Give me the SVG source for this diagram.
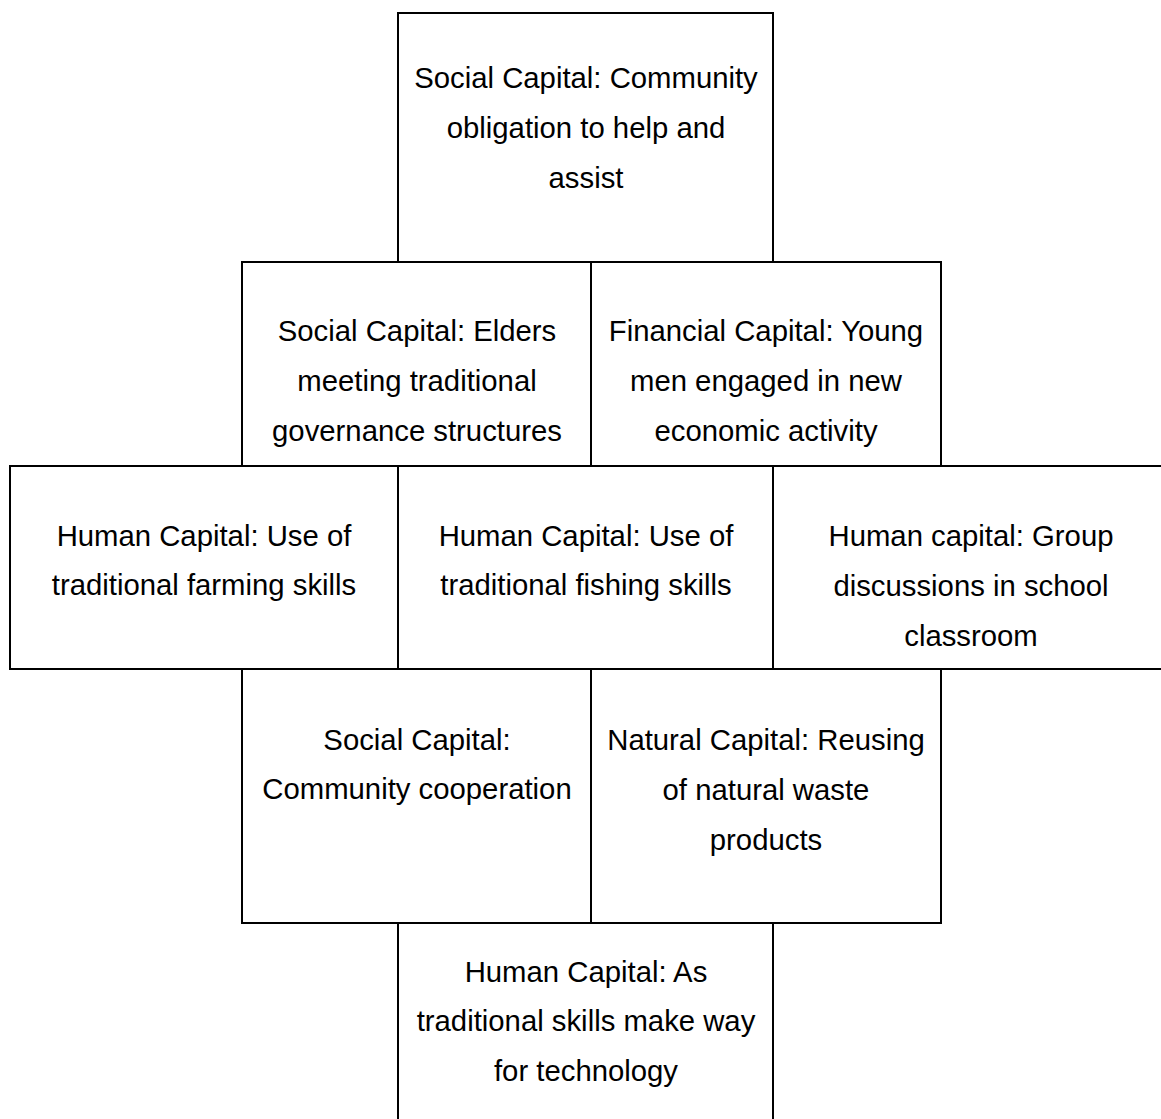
<svg xmlns="http://www.w3.org/2000/svg" width="1161" height="1119" viewBox="0 0 1161 1119">
  <style>
    .box { fill: #ffffff; stroke: #000000; stroke-width: 2; }
    .lbl { font-family: "Liberation Sans", Arial, sans-serif; font-size: 29.3px; fill: #000000; text-anchor: middle; }
  </style>
  <rect x="0" y="0" width="1161" height="1119" fill="#ffffff"/>
  <g id="connectors"></g>

  <g id="node-community-obligation">
    <rect class="box" x="398" y="13" width="375" height="249"/>
    <text class="lbl" x="586" y="88">Social Capital: Community</text>
    <text class="lbl" x="586" y="138">obligation to help and</text>
    <text class="lbl" x="586" y="188">assist</text>
  </g>

  <g id="node-elders-meeting">
    <rect class="box" x="242" y="262" width="349" height="204"/>
    <text class="lbl" x="417" y="341">Social Capital: Elders</text>
    <text class="lbl" x="417" y="391">meeting traditional</text>
    <text class="lbl" x="417" y="441">governance structures</text>
  </g>

  <g id="node-young-men">
    <rect class="box" x="591" y="262" width="350" height="204"/>
    <text class="lbl" x="766" y="341">Financial Capital: Young</text>
    <text class="lbl" x="766" y="391">men engaged in new</text>
    <text class="lbl" x="766" y="441">economic activity</text>
  </g>

  <g id="node-farming-skills">
    <rect class="box" x="10" y="466" width="388" height="203"/>
    <text class="lbl" x="204" y="546">Human Capital: Use of</text>
    <text class="lbl" x="204" y="595">traditional farming skills</text>
  </g>

  <g id="node-fishing-skills">
    <rect class="box" x="398" y="466" width="375" height="203"/>
    <text class="lbl" x="586" y="546">Human Capital: Use of</text>
    <text class="lbl" x="586" y="595">traditional fishing skills</text>
  </g>

  <g id="node-group-discussions">
    <rect class="box" x="773" y="466" width="392" height="203"/>
    <text class="lbl" x="971" y="546">Human capital: Group</text>
    <text class="lbl" x="971" y="596">discussions in school</text>
    <text class="lbl" x="971" y="646">classroom</text>
  </g>

  <g id="node-community-cooperation">
    <rect class="box" x="242" y="669" width="349" height="254"/>
    <text class="lbl" x="417" y="750">Social Capital:</text>
    <text class="lbl" x="417" y="799">Community cooperation</text>
  </g>

  <g id="node-natural-waste">
    <rect class="box" x="591" y="669" width="350" height="254"/>
    <text class="lbl" x="766" y="750">Natural Capital: Reusing</text>
    <text class="lbl" x="766" y="800">of natural waste</text>
    <text class="lbl" x="766" y="850">products</text>
  </g>

  <g id="node-technology">
    <rect class="box" x="398" y="923" width="375" height="200"/>
    <text class="lbl" x="586" y="982">Human Capital: As</text>
    <text class="lbl" x="586" y="1031">traditional skills make way</text>
    <text class="lbl" x="586" y="1081">for technology</text>
  </g>
</svg>
